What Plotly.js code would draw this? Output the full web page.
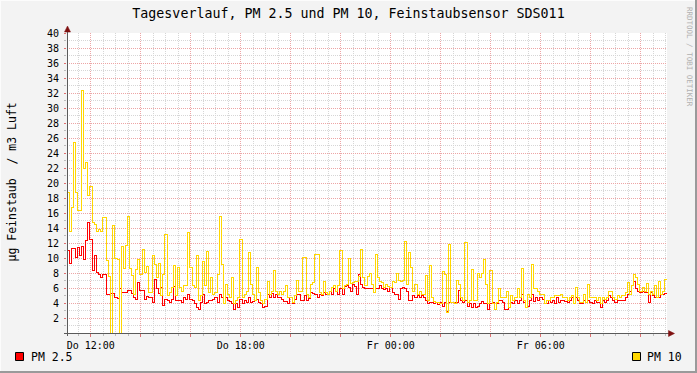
<!DOCTYPE html>
<html><head><meta charset="utf-8">
<script src="https://cdn.plot.ly/plotly-3.0.1.min.js"></script>
<style>
html,body{margin:0;padding:0;background:#f3f3f3;}
#chart{width:697px;height:373px;}
.scatterlayer .js-line{shape-rendering:crispEdges;}
</style>
</head><body><div id="chart"></div>
<script>
// time axis: hours since Thursday 00:00, 5-minute steps
const startHour = 11.05;          // Do 11:03
const stepHours = 5 / 60;
const seriesNames = ['PM 2.5', 'PM 10'];
const seriesColors = ['#FF0000', '#FFD700'];

const pm25 = [
 11.0, 9.3, 11.3, 11.3, 10.1, 11.4, 10.4, 11.5, 9.8, 12.3, 14.7, 12.5,
 8.4, 10.4, 8.1, 7.8, 7.4, 7.8, 7.8, 5.2, 5.2, 5.3, 5.3, 4.7,
 4.6, 5.9, 5.4, 5.4, 5.4, 5.7, 5.7, 5.3, 4.7, 4.5, 6.8, 5.7,
 5.7, 4.5, 4.9, 4.7, 4.7, 4.1, 7.1, 5.9, 5.3, 6.1, 3.7, 4.5,
 4.3, 4.1, 4.5, 6.2, 4.3, 4.4, 4.4, 4.1, 4.7, 4.5, 5.2, 4.5,
 4.4, 3.9, 3.4, 3.2, 4.1, 5.2, 3.9, 4.1, 4.4, 4.3, 4.5, 4.7,
 4.1, 5.1, 4.8, 3.9, 4.7, 4.4, 4.2, 3.9, 3.2, 3.9, 3.4, 4.5,
 3.9, 4.3, 4.1, 4.7, 4.1, 4.2, 4.3, 4.5, 4.1, 3.9, 3.4, 3.5,
 5.2, 4.7, 5.3, 4.7, 5.1, 4.7, 4.7, 4.5, 4.2, 4.2, 4.0, 4.7,
 3.9, 4.5, 5.2, 5.2, 4.4, 4.4, 5.0, 4.4, 4.6, 5.4, 5.3, 5.2,
 4.7, 5.2, 5.0, 5.4, 5.2, 5.2, 5.6, 5.2, 5.9, 5.5, 5.2, 5.9,
 5.2, 6.2, 6.3, 6.1, 5.6, 6.5, 6.2, 5.2, 7.8, 6.5, 6.1, 6.0,
 6.0, 6.0, 6.0, 5.4, 6.0, 6.0, 6.4, 6.0, 5.8, 5.9, 5.6, 6.1,
 5.4, 5.2, 5.2, 4.5, 5.9, 6.1, 5.9, 5.6, 4.4, 4.4, 5.0, 4.7,
 5.0, 4.7, 5.0, 4.7, 4.4, 3.9, 4.1, 4.1, 3.9, 4.1, 3.8, 4.1,
 3.6, 4.1, 2.9, 4.1, 4.1, 4.1, 4.1, 4.1, 5.7, 4.4, 4.1, 4.3,
 3.6, 3.9, 3.4, 3.9, 3.4, 3.6, 3.9, 4.2, 3.9, 3.9, 3.2, 3.9,
 4.1, 3.2, 3.9, 4.3, 4.3, 4.1, 3.2, 3.1, 3.4, 4.1, 3.9, 4.3,
 3.9, 4.3, 5.2, 4.1, 3.4, 3.6, 4.3, 5.1, 4.2, 4.7, 4.4, 4.7,
 4.5, 3.9, 3.9, 4.3, 4.1, 4.3, 3.9, 4.7, 4.1, 4.4, 4.4, 4.2,
 4.1, 4.3, 4.7, 3.9, 4.7, 4.3, 3.9, 3.9, 4.3, 4.1, 4.4, 4.1,
 3.9, 4.3, 4.1, 4.1, 3.4, 4.3, 4.1, 4.4, 5.0, 4.7, 4.4, 4.1,
 4.4, 4.3, 4.4, 4.4, 4.7, 5.2, 5.6, 6.4, 6.9, 6.0, 5.6, 5.4,
 5.6, 5.4, 5.4, 4.1, 5.4, 5.0, 4.7, 4.7, 4.7, 5.2, 5.2, 5.3
];

const pm10 = [
 18.7, 13.5, 16.7, 25.4, 18.7, 16.3, 16.3, 32.4, 22.0, 22.7, 18.4, 19.5,
 14.7, 14.5, 13.5, 13.8, 13.5, 15.4, 15.4, 9.7, 7.6, 0, 14.3, 10.0,
 9.8, 0, 11.5, 8.6, 11.7, 15.5, 8.6, 7.7, 5.2, 8.5, 9.8, 7.8,
 11.2, 8.1, 8.9, 5.4, 5.4, 10.3, 9.2, 7.4, 9.3, 5.0, 7.8, 13.2,
 5.0, 5.4, 6.1, 9.0, 5.0, 8.7, 6.1, 5.6, 6.3, 6.3, 13.4, 8.7,
 6.3, 6.1, 10.4, 4.3, 5.0, 9.5, 6.3, 10.9, 5.4, 7.4, 5.2, 5.4,
 7.8, 15.5, 9.1, 3.9, 6.5, 5.2, 4.7, 7.4, 3.9, 4.3, 4.7, 12.5,
 4.7, 5.2, 5.6, 10.7, 6.5, 5.2, 4.3, 8.7, 5.4, 4.3, 3.9, 4.5,
 6.9, 5.2, 5.6, 8.4, 5.6, 5.2, 5.6, 5.2, 5.6, 6.4, 4.8, 4.7,
 4.1, 5.0, 7.0, 5.6, 5.6, 10.1, 10.1, 5.2, 4.7, 6.5, 6.7, 10.5,
 10.5, 5.4, 5.2, 6.9, 5.4, 5.2, 5.6, 6.1, 6.3, 5.6, 6.3, 11.0,
 5.9, 6.4, 6.5, 10.0, 6.6, 6.7, 6.9, 6.9, 7.5, 11.2, 7.4, 6.4,
 7.6, 7.9, 6.5, 5.4, 10.5, 7.4, 6.9, 6.7, 6.1, 6.5, 6.2, 6.1,
 6.9, 6.7, 7.9, 7.0, 6.9, 7.0, 12.2, 6.5, 10.7, 8.7, 5.6, 6.5,
 5.2, 5.6, 5.2, 5.2, 7.7, 4.3, 9.0, 4.7, 4.2, 4.1, 4.1, 3.9,
 8.2, 7.8, 2.8, 11.8, 4.1, 4.1, 3.9, 7.0, 6.5, 4.7, 4.4, 12.1,
 4.1, 4.3, 8.5, 4.3, 4.3, 7.9, 7.4, 7.9, 9.8, 6.5, 3.9, 8.4,
 3.9, 3.2, 4.1, 5.9, 4.7, 4.7, 4.8, 5.6, 3.4, 5.0, 4.3, 4.7,
 6.0, 4.8, 8.6, 4.3, 3.4, 5.1, 4.7, 9.2, 5.9, 5.9, 5.6, 5.1,
 5.1, 3.9, 4.3, 4.3, 4.7, 4.7, 5.0, 5.0, 5.0, 5.1, 4.7, 4.7,
 4.4, 4.7, 5.0, 3.9, 6.1, 4.7, 4.1, 4.1, 5.2, 4.1, 6.5, 4.7,
 4.8, 4.7, 4.3, 4.7, 3.9, 4.7, 4.5, 4.7, 5.5, 5.5, 4.8, 4.5,
 5.0, 4.7, 5.0, 5.0, 5.4, 6.7, 5.2, 6.3, 7.8, 7.4, 6.5, 5.6,
 6.1, 5.6, 6.6, 5.2, 5.5, 5.1, 6.4, 4.7, 6.9, 5.2, 5.6, 7.2
];

const xTickHours = [12, 14, 16, 18, 20, 22, 24, 26, 28, 30, 32, 34];
const xTickLabels = ['Do 12:00', '', '', 'Do 18:00', '', '', 'Fr 00:00', '', '', 'Fr 06:00', '', ''];
const yTickValues = [2,4,6,8,10,12,14,16,18,20,22,24,26,28,30,32,34,36,38,40];

const titleText = 'Tagesverlauf, PM 2.5 und PM 10, Feinstaubsensor SDS011';
const yTitleText = 'µg Feinstaub  / m3 Luft';
const watermark = 'RRDTOOL / TOBI OETIKER';

// ---- build traces ----
function stepTrace(vals, name, color) {
  const x = vals.map((_, i) => startHour + i * stepHours);
  x.push(startHour + vals.length * stepHours);
  const y = vals.slice();
  y.push(vals[vals.length - 1]);
  return {x: x, y: y, type: 'scatter', mode: 'lines', name: name,
          line: {shape: 'hv', color: color, width: 1}, hoverinfo: 'skip'};
}
const traces = [
  stepTrace(pm25, seriesNames[0], seriesColors[0]),
  stepTrace(pm10, seriesNames[1], seriesColors[1])
];

// pixel geometry helpers (plot area 67..667 x 33..333)
const L = 67, T = 33, W = 600, H = 300;
const px = v => (v - L) / W;
const py = v => (T + H - v) / H;

const mono = 'DejaVu Sans Mono, monospace';
const axisCol = '#5a5a5a';
const arrowCol = '#7f1010';
const majorGrid = '#eda5a5';
const minorGrid = '#d6d6d6';

const shapes = [
  // frame shading
  {type:'line', xref:'paper', yref:'paper', x0:px(0), x1:px(697), y0:py(0.5), y1:py(0.5), line:{color:'#fcfcfc', width:1}},
  {type:'line', xref:'paper', yref:'paper', x0:px(0.5), x1:px(0.5), y0:py(0), y1:py(373), line:{color:'#fcfcfc', width:1}},
  {type:'line', xref:'paper', yref:'paper', x0:px(0), x1:px(697), y0:py(372), y1:py(372), line:{color:'#9a9a9a', width:2}},
  {type:'line', xref:'paper', yref:'paper', x0:px(696), x1:px(696), y0:py(0), y1:py(373), line:{color:'#9a9a9a', width:2}},
  // axes
  {type:'line', xref:'paper', yref:'paper', x0:px(67.5), x1:px(67.5), y0:py(336), y1:py(29), line:{color:axisCol, width:1}},
  {type:'line', xref:'paper', yref:'paper', x0:px(64), x1:px(671), y0:py(333.5), y1:py(333.5), line:{color:axisCol, width:1}},
  // arrows
  {type:'path', xref:'paper', yref:'paper',
   path:'M'+px(67.5)+','+py(26)+' L'+px(64.5)+','+py(32)+' L'+px(70.5)+','+py(32)+' Z',
   fillcolor:arrowCol, line:{color:arrowCol, width:0.5}},
  {type:'path', xref:'paper', yref:'paper',
   path:'M'+px(674.5)+','+py(333.5)+' L'+px(668.5)+','+py(330.5)+' L'+px(668.5)+','+py(336.5)+' Z',
   fillcolor:arrowCol, line:{color:arrowCol, width:0.5}},
  // legend boxes
  {type:'rect', xref:'paper', yref:'paper', x0:px(15.5), x1:px(23.5), y0:py(352.5), y1:py(360.5),
   fillcolor:seriesColors[0], line:{color:'#000', width:1}},
  {type:'rect', xref:'paper', yref:'paper', x0:px(632.5), x1:px(640.5), y0:py(352.5), y1:py(360.5),
   fillcolor:seriesColors[1], line:{color:'#000', width:1}}
];

const annotations = [
  {text: yTitleText, xref:'paper', yref:'paper', x:px(11.5), y:py(182), textangle:-90,
   showarrow:false, xanchor:'center', yanchor:'middle', font:{family:mono, size:11.5, color:'#000'}},
  {text: seriesNames[0], xref:'paper', yref:'paper', x:px(29), y:py(357), showarrow:false,
   xanchor:'left', yanchor:'middle', font:{family:mono, size:11.5, color:'#000'}},
  {text: seriesNames[1], xref:'paper', yref:'paper', x:px(645), y:py(357), showarrow:false,
   xanchor:'left', yanchor:'middle', font:{family:mono, size:11.5, color:'#000'}},
  {text: watermark, xref:'paper', yref:'paper', x:px(689), y:py(57), textangle:90, showarrow:false,
   xanchor:'center', yanchor:'middle', font:{family:mono, size:7.5, color:'#b0b0b0'}}
];

const layout = {
  width: 697, height: 373, autosize: false,
  margin: {l: L, r: 697 - L - W, t: T, b: 373 - T - H, pad: 0},
  paper_bgcolor: '#f3f3f3', plot_bgcolor: '#ffffff',
  showlegend: false,
  title: {text: titleText, x: 0.5, xanchor: 'center', y: 1 - 13 / 373, yanchor: 'middle',
          font: {family: mono, size: 13.3, color: '#000'}},
  xaxis: {
    type: 'linear', range: [startHour, startHour + 24], fixedrange: true,
    tickmode: 'array', tickvals: xTickHours, ticktext: xTickLabels,
    showgrid: true, gridcolor: majorGrid, griddash: '1px,1px', gridwidth: 1,
    ticks: 'outside', ticklen: 3, tickcolor: '#e07070', tickwidth: 1,
    showline: false, zeroline: false,
    tickfont: {family: mono, size: 10, color: '#000'},
    minor: {tickmode: 'linear', tick0: 0, dtick: 0.5, showgrid: true, gridcolor: minorGrid,
            griddash: '1px,1px', gridwidth: 1, ticks: 'outside', ticklen: 2, tickcolor: '#bbbbbb'}
  },
  yaxis: {
    type: 'linear', range: [0, 40], fixedrange: true,
    tickmode: 'array', tickvals: yTickValues, ticktext: yTickValues.map(String),
    showgrid: true, gridcolor: majorGrid, griddash: '1px,1px', gridwidth: 1,
    ticks: 'outside', ticklen: 2, tickcolor: '#e07070', tickwidth: 1,
    ticklabelstandoff: 3,
    showline: false, zeroline: false,
    tickfont: {family: mono, size: 10, color: '#000'},
    minor: {tickmode: 'linear', tick0: 0, dtick: 1, showgrid: true, gridcolor: minorGrid,
            griddash: '1px,1px', gridwidth: 1, ticks: 'outside', ticklen: 2, tickcolor: '#bbbbbb'}
  },
  shapes: shapes,
  annotations: annotations
};

Plotly.newPlot('chart', traces, layout, {displayModeBar: false, staticPlot: true});
</script>
</body></html>
